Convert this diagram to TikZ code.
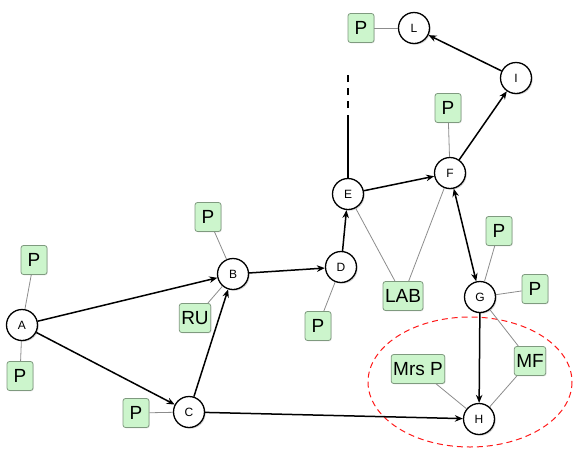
\documentclass[tikz,border=0pt]{standalone}
\usepackage{fontspec}
\setmainfont{Liberation Sans}
\usetikzlibrary{arrows.meta,shadows}
\definecolor{boxfill}{HTML}{CCF5CC}
\definecolor{boxdraw}{HTML}{7F9A7F}
\definecolor{assoc}{HTML}{8C8C8C}
\tikzset{
  ent/.style={circle,draw=black,line width=1.3pt,fill=white,minimum size=31pt,inner sep=0pt,
    font=\fontsize{12}{12}\selectfont,
    drop shadow={opacity=0.35,shadow xshift=1.2pt,shadow yshift=-1.2pt}},
  tag/.style={rectangle,rounded corners=2.5pt,draw=boxdraw,line width=0.8pt,fill=boxfill,
    minimum height=29pt,minimum width=26pt,inner sep=2pt,font=\fontsize{19}{19}\selectfont,
    drop shadow={opacity=0.2,shadow xshift=0.8pt,shadow yshift=-0.8pt}},
  rel/.style={-{Stealth[length=8pt,width=6.5pt]},line width=1.5pt,black},
  birel/.style={{Stealth[length=8pt,width=6.5pt]}-{Stealth[length=8pt,width=6.5pt]},line width=1.5pt,black},
  link/.style={draw=assoc,line width=0.8pt},
}
\begin{document}
\begin{tikzpicture}[x=1pt,y=-1pt]
\useasboundingbox (0,0) rectangle (573,448);
% red dashed ellipse
\draw[red!90!white,dash pattern=on 6pt off 4pt,line width=1pt] (470,382) ellipse [x radius=102, y radius=65];
% entity nodes
\node[ent] (A) at (22,325) {A};
\node[ent] (B) at (233,274) {B};
\node[ent] (C) at (189,412) {C};
\node[ent] (D) at (341,267) {D};
\node[ent] (E) at (348,194) {E};
\node[ent] (F) at (450,173) {F};
\node[ent] (I) at (516,78) {I};
\node[ent] (L) at (414,28) {L};
\node[ent] (G) at (480,297) {G};
\node[ent] (H) at (479,419) {H};
% tags
\node[tag] (pA1) at (34,260) {P};
\node[tag] (pA2) at (20,376) {P};
\node[tag] (pB) at (208,217) {P};
\node[tag] (ru) at (195,318) {RU};
\node[tag] (pD) at (318,326) {P};
\node[tag] (pC) at (136,413) {P};
\node[tag] (lab) at (403,296) {LAB};
\node[tag] (pF) at (448,108) {P};
\node[tag] (pL) at (361,28) {P};
\node[tag] (pG1) at (499,231) {P};
\node[tag] (pG2) at (535,289) {P};
\node[tag] (mf) at (530,361) {MF};
\node[tag] (mrsp) at (418,369) {Mrs P};
% association links
\draw[link] (A) -- (pA1);
\draw[link] (A) -- (pA2);
\draw[link] (B) -- (pB);
\draw[link] (B) -- (ru);
\draw[link] (D) -- (pD);
\draw[link] (C) -- (pC);
\draw[link] (E) -- (lab);
\draw[link] (F) -- (lab);
\draw[link] (F) -- (pF);
\draw[link] (L) -- (pL);
\draw[link] (G) -- (pG1);
\draw[link] (G) -- (pG2);
\draw[link] (G) -- (mf);
\draw[link] (mf) -- (H);
\draw[link] (mrsp) -- (H);
% relations
\draw[rel] (A) -- (B);
\draw[rel] (A) -- (C);
\draw[rel] (C) -- (B);
\draw[rel] (B) -- (D);
\draw[rel] (D) -- (E);
\draw[rel] (E) -- (F);
\draw[rel] (F) -- (I);
\draw[rel] (I) -- (L);
\draw[birel] (F) -- (G);
\draw[rel] (G) -- (H);
\draw[rel] (C) -- (H);
% open end above E
\coordinate (eTop) at (348,115);
\coordinate (eDash1) at (348,108);
\coordinate (eDash2) at (348,72);
\draw[line width=1.5pt] (E) -- (eTop);
\draw[line width=1.5pt,dash pattern=on 7pt off 6pt] (eDash1) -- (eDash2);
\end{tikzpicture}
\end{document}
